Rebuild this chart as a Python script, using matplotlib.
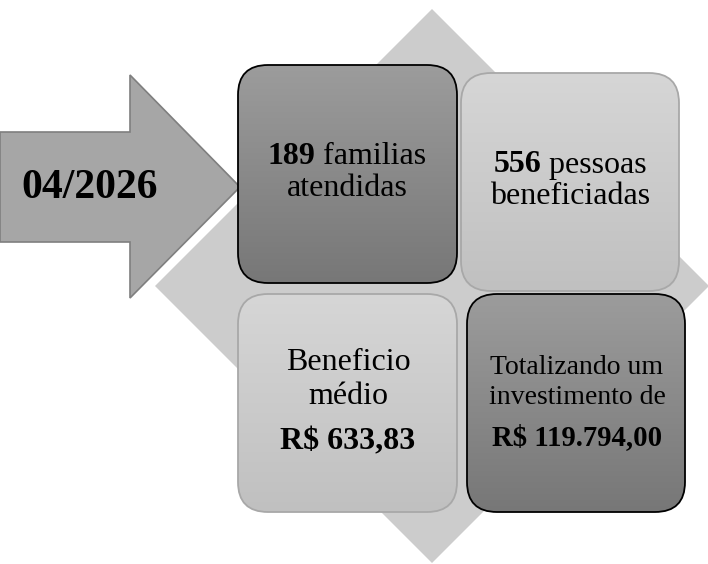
import matplotlib
matplotlib.use("Agg")
import matplotlib.pyplot as plt
import numpy as np
from matplotlib.patches import Polygon, FancyBboxPatch

# ---- data ----
period = "04/2026"
familias = 189
pessoas = 556
beneficio_medio = "R$ 633,83"
investimento = "R$ 119.794,00"

box_lines = [
    [[(str(familias), "bold"), (" familias", "normal")], [("atendidas", "normal")]],
    [[(str(pessoas), "bold"), (" pessoas", "normal")], [("beneficiadas", "normal")]],
    [[("Beneficio", "normal")], [("médio", "normal")], [(beneficio_medio, "bold")]],
    [[("Totalizando um", "normal")], [("investimento de", "normal")], [(investimento, "bold")]],
]

W, H = 708, 564
fig = plt.figure(figsize=(W / 100, H / 100), dpi=100)
ax = fig.add_axes([0, 0, 1, 1])
ax.set_xlim(0, W)
ax.set_ylim(H, 0)
ax.axis("off")

FONT = ["Liberation Serif", "DejaVu Serif"]

# background diamond
cx, cy, r = 432, 286, 277
ax.add_patch(Polygon([(cx, cy - r), (cx + r, cy), (cx, cy + r), (cx - r, cy)],
                     closed=True, facecolor="#cccccc", edgecolor="none", zorder=1))

# arrow
arrow = [(0, 132), (130, 132), (130, 75), (240, 187), (130, 298), (130, 242), (0, 242)]
ax.add_patch(Polygon(arrow, closed=True, facecolor="#a6a6a6", edgecolor="#7f7f7f",
                     linewidth=1.2, zorder=2))
ax.text(90, 188, period, fontfamily=FONT, fontweight="bold", fontsize=30,
        ha="center", va="center", zorder=5)

# boxes: (x0, y0, x1, y1, top color, bottom color, edge)
dark = ("#9c9c9c", "#777777", "#000000")
light = ("#d6d6d6", "#c0c0c0", "#a8a8a8")
boxes = [
    (238, 65, 457, 283, *dark),
    (461, 73, 679, 291, *light),
    (238, 294, 457, 512, *light),
    (467, 294, 685, 512, *dark),
]


def hex2rgb(h):
    h = h.lstrip("#")
    return np.array([int(h[i:i + 2], 16) / 255 for i in (0, 2, 4)])


for (x0, y0, x1, y1, ctop, cbot, ec) in boxes:
    rad = 30
    patch = FancyBboxPatch((x0 + rad, y0 + rad), (x1 - x0) - 2 * rad, (y1 - y0) - 2 * rad,
                           boxstyle=f"round,pad={rad},rounding_size={rad}",
                           facecolor="none", edgecolor=ec, linewidth=1.3, zorder=4)
    ax.add_patch(patch)
    t = np.linspace(0, 1, 256)[:, None]
    c0, c1 = hex2rgb(ctop), hex2rgb(cbot)
    grad = (c0[None, None, :] * (1 - t[..., None]) + c1[None, None, :] * t[..., None])
    grad = np.repeat(grad, 2, axis=1)
    im = ax.imshow(grad, extent=(x0, x1, y1, y0), aspect="auto", zorder=3,
                   interpolation="bilinear")
    clip = FancyBboxPatch((x0 + rad, y0 + rad), (x1 - x0) - 2 * rad, (y1 - y0) - 2 * rad,
                          boxstyle=f"round,pad={rad},rounding_size={rad}",
                          facecolor="none", edgecolor="none", transform=ax.transData)
    im.set_clip_path(clip)

ax.set_xlim(0, W)
ax.set_ylim(H, 0)

renderer = fig.canvas.get_renderer()


def draw_line(segments, xc, y, size):
    texts = []
    widths = []
    for s, w in segments:
        tx = ax.text(0, y, s, fontfamily=FONT, fontweight=w, fontsize=size,
                     ha="left", va="center", zorder=6)
        bb = tx.get_window_extent(renderer=renderer)
        texts.append(tx)
        widths.append(bb.width)
    total = sum(widths)
    x = xc - total / 2
    for tx, wd in zip(texts, widths):
        tx.set_x(x)
        x += wd


# text positions (line centres) and sizes per box
layout = [
    (347, [157, 188], [23, 23]),
    (570, [165, 197], [23, 23]),
    (348, [363, 397, 442], [23, 23, 23]),
    (577, [368, 398, 438], [20, 20, 20.7]),
]
for lines, (xc, ys, sizes) in zip(box_lines, layout):
    for seg, y, s in zip(lines, ys, sizes):
        draw_line(seg, xc, y, s)

fig.savefig("out.png", dpi=100)
